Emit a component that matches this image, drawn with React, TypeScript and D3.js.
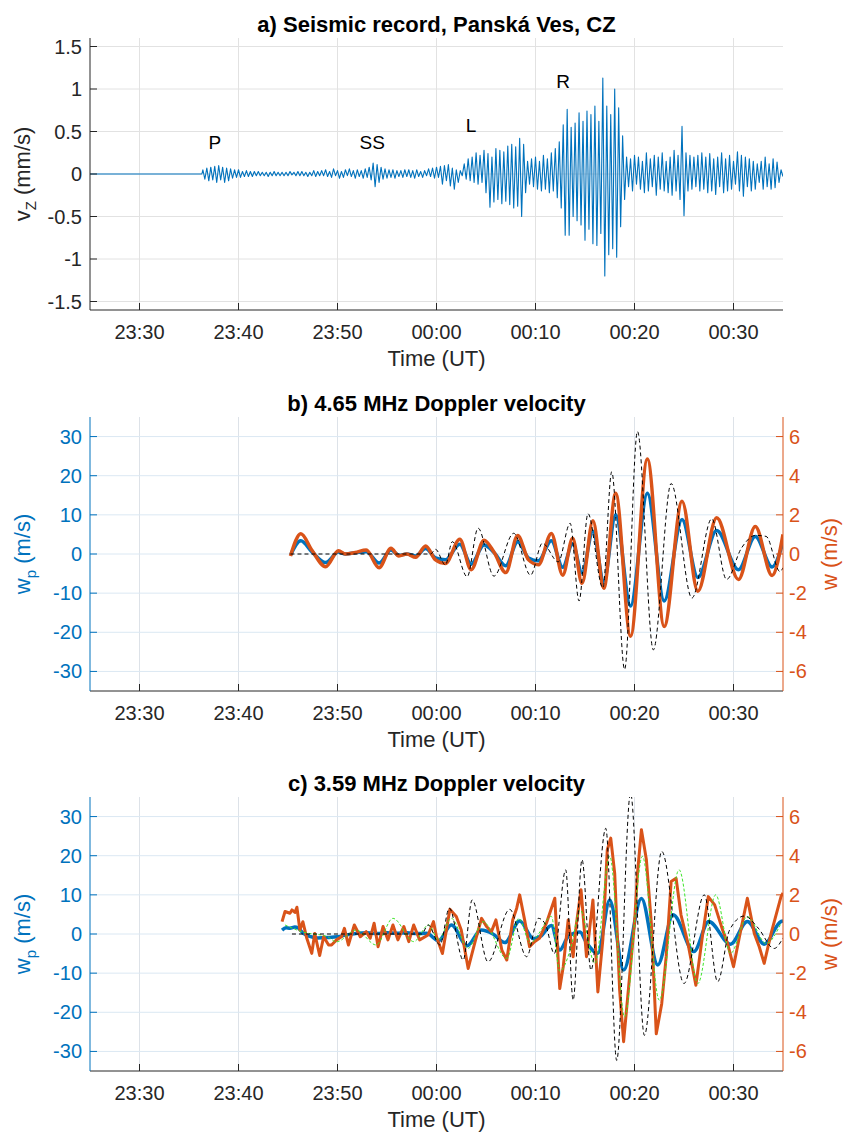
import React from "react";
import * as d3 from "d3";

type Pt = [number, number];

// ---------- axes / ticks ----------
const timeTicks = [-30, -20, -10, 0, 10, 20, 30]; // minutes relative to 00:00 UT
const timeTickLabels = ["23:30", "23:40", "23:50", "00:00", "00:10", "00:20", "00:30"];
const seismicTicks = [-1.5, -1, -0.5, 0, 0.5, 1, 1.5];
const seismicTickLabels = ["-1.5", "-1", "-0.5", "0", "0.5", "1", "1.5"];
const wpTicks = [-30, -20, -10, 0, 10, 20, 30];
const wTicks = [-6, -4, -2, 0, 2, 4, 6];

// ---------- panel a: seismic record (successive extrema, 0.2 min apart) ----------
const SEIS_START = -23.6;
const SEIS_STEP = 0.2;
const seismicPeaks: number[] = [
  0.05, -0.06, 0.07, -0.08, 0.08, -0.07, 0.09, -0.1, 0.1, -0.07,
  0.08, -0.1, 0.07, -0.08, 0.06, -0.05, 0.05, -0.04, 0.05, -0.04,
  0.03, -0.03, 0.04, -0.03, 0.03, -0.03, 0.03, -0.02, 0.03, -0.02,
  0.02, -0.02, 0.02, -0.03, 0.02, -0.02, 0.03, -0.02, 0.02, -0.02,
  0.02, -0.02, 0.02, -0.02, 0.03, -0.01, 0.02, -0.02, 0.03, -0.02,
  0.03, -0.02, 0.02, -0.03, 0.02, -0.02, 0.04, -0.03, 0.03, -0.02,
  0.04, -0.02, 0.05, -0.03, 0.03, -0.04, 0.06, -0.02, 0.04, -0.05,
  0.03, -0.04, 0.05, -0.02, 0.06, -0.03, 0.04, -0.05, 0.05, -0.03,
  0.04, -0.05, 0.06, -0.04, 0.08, -0.07, 0.13, -0.15, 0.11, -0.1,
  0.08, -0.06, 0.06, -0.05, 0.05, -0.04, 0.05, -0.05, 0.04, -0.03,
  0.04, -0.04, 0.05, -0.03, 0.05, -0.04, 0.04, -0.05, 0.05, -0.03,
  0.03, -0.04, 0.04, -0.02, 0.06, -0.03, 0.07, -0.05, 0.08, -0.04,
  0.09, -0.12, 0.1, -0.08, 0.11, -0.14, 0.07, -0.18, 0.05, -0.1,
  0.04, -0.02, 0.12, -0.06, 0.18, -0.08, 0.2, -0.1, 0.25, -0.12,
  0.22, -0.1, 0.28, -0.22, 0.24, -0.39, 0.2, -0.33, 0.3, -0.3,
  0.28, -0.35, 0.26, -0.32, 0.33, -0.36, 0.35, -0.4, 0.32, -0.38,
  0.42, -0.5, 0.35, -0.22, 0.15, -0.12, 0.18, -0.15, 0.2, -0.18,
  0.15, -0.2, 0.22, -0.18, 0.18, -0.22, 0.25, -0.2, 0.3, -0.28,
  0.38, -0.4, 0.58, -0.72, 0.76, -0.72, 0.55, -0.5, 0.6, -0.55,
  0.72, -0.6, 0.62, -0.78, 0.74, -0.65, 0.7, -0.82, 0.8, -0.84,
  0.62, -0.7, 1.13, -1.2, 0.8, -0.95, 0.7, -0.88, 1.0, -0.98,
  0.78, -0.62, 0.45, -0.3, 0.2, -0.15, 0.18, -0.2, 0.22, -0.12,
  0.2, -0.18, 0.15, -0.22, 0.25, -0.2, 0.18, -0.15, 0.22, -0.25,
  0.2, -0.18, 0.25, -0.2, 0.15, -0.22, 0.2, -0.25, 0.28, -0.2,
  0.22, -0.3, 0.56, -0.49, 0.25, -0.2, 0.22, -0.18, 0.2, -0.15,
  0.22, -0.2, 0.25, -0.18, 0.2, -0.22, 0.24, -0.2, 0.18, -0.24,
  0.2, -0.15, 0.25, -0.22, 0.18, -0.2, 0.22, -0.18, 0.15, -0.12,
  0.26, -0.2, 0.22, -0.26, 0.2, -0.15, 0.18, -0.2, 0.15, -0.18,
  0.12, -0.1, 0.15, -0.18, 0.2, -0.15, 0.12, -0.18, 0.18, -0.16,
  0.14, -0.1, 0.05, -0.03,
];
const phaseLabels = ["P", "SS", "L", "R"];
const phaseTimes = [-22.4, -6.5, 3.5, 12.8];
const phaseLevels = [0.38, 0.38, 0.58, 1.09];

// ---------- panel b: 4.65 MHz ----------
const bOrange: Pt[] = [
  [-14.75, -0.1], [-13.7, 1.03], [-12.6, 0.2], [-11.2, -0.65], [-9.9, 0.17], [-9.2, 0], [-8.2, 0.08],
  [-7.1, 0.2], [-5.8, -0.7], [-4.6, 0.29], [-3.8, -0.1], [-3.0, 0], [-2.1, -0.17], [-1.1, 0.41],
  [-0.1, -0.3], [0.9, -0.48], [2.35, 0.75], [3.5, -0.8], [4.8, 0.7], [5.8, 0.1], [7.0, -0.95],
  [8.2, 0.95], [9.3, -0.3], [10.3, -0.55], [11.6, 1.05], [12.75, -1.08], [13.75, 0.8], [14.7, -1.5],
  [15.8, 1.7], [16.9, -1.75], [18.1, 3.1], [19.6, -4.2], [21.3, 4.85], [23.0, -3.7], [24.8, 2.7],
  [26.4, -1.9], [28.3, 1.85], [30.5, -1.3], [32.2, 1.4], [33.9, -1.1], [35, 1.0],
];
const bBlue: Pt[] = [
  [-14.75, -0.3], [-13.7, 3.4], [-12.6, 0.6], [-11.2, -2.2], [-9.9, 0.5], [-9.2, 0], [-8.2, 0.3],
  [-7.1, 0.6], [-5.8, -2.3], [-4.6, 1.0], [-3.8, -0.3], [-3.0, 0], [-2.1, -0.5], [-1.1, 1.4],
  [-0.1, -1.0], [0.9, -1.5], [2.35, 2.5], [3.5, -2.6], [4.8, 2.3], [5.8, 0.4], [7.0, -3.0],
  [8.2, 3.1], [9.3, -1.0], [10.3, -1.7], [11.6, 3.4], [12.75, -3.4], [13.75, 2.6], [14.7, -4.8],
  [15.8, 5.8], [16.9, -7.0], [18.1, 10], [19.6, -13.3], [21.3, 15.5], [23.0, -12], [24.8, 8.8],
  [26.4, -6.0], [28.3, 6.0], [30.5, -4.0], [32.2, 4.5], [33.9, -3.3], [35, 3.0],
];
const bModel: Pt[] = [
  [-14.75, 0], [-0.6, 0], [-0.1, 0.24], [0.9, -0.56], [1.6, 0.63], [3.1, -1.16], [4.2, 1.32],
  [5.8, -1.13], [7.8, 1.06], [9.5, -1.08], [10.7, 0.55], [12.3, -0.4], [13.5, 1.57], [14.4, -2.4],
  [15.3, 2.06], [16.8, -1.73], [17.7, 4.2], [19.0, -5.9], [20.3, 6.26], [21.9, -4.9], [23.7, 3.6],
  [25.8, -2.25], [27.8, 1.8], [29.3, -1.3], [30.8, 0.3], [32.2, 0.95], [33.3, 0.9], [34.7, -0.9], [35, -0.7],
];

// ---------- panel c: 3.59 MHz ----------
const cOrange: Pt[] = [
  [-15.6, 0.63], [-15.3, 1.15], [-14.8, 1.06], [-14.6, 1.23], [-14.3, 1.1], [-14.1, 1.37], [-13.8, 0.2],
  [-13.5, 0.63], [-13.1, -0.22], [-12.6, -0.99], [-12.3, 0.03], [-11.8, -1.1], [-11.4, -0.14], [-10.9, -0.56],
  [-10.6, -0.56], [-10.1, -0.3], [-9.6, -0.14], [-9.3, 0.29], [-8.9, -0.56], [-8.3, 0.46], [-7.7, -0.14],
  [-7.1, 0.12], [-6.7, -0.22], [-6.3, 0.55], [-5.9, -0.65], [-5.4, 0.38], [-4.9, -0.3], [-4.4, 0.46],
  [-3.9, -0.3], [-3.3, 0.38], [-2.8, -0.39], [-2.3, 0.46], [-1.7, -0.3], [-0.85, -0.05], [-0.3, 0.63],
  [0, -0.14], [0.6, -1.0], [1.35, 1.26], [2.0, 0.89], [2.5, 0.2], [3.2, -1.76], [3.9, -0.39],
  [4.55, 0.8], [5.05, 0.38], [5.55, 0.12], [6.0, 0.72], [6.6, -0.82], [7.1, -1.33], [7.7, 0.72],
  [8.1, 1.32], [8.4, 2.0], [8.9, 0.72], [9.4, -0.65], [9.9, -0.39], [10.4, -0.22], [11.1, 0.55],
  [11.95, 1.83], [12.45, -2.79], [12.8, -1.68], [13.3, 0.72], [13.8, -1.16], [14.1, 0.38], [14.6, 2.26],
  [15.15, -1.16], [15.8, 1.74], [16.3, -2.96], [16.8, -0.3], [17.25, 4.3], [17.6, 4.9], [18.0, 3.1],
  [18.5, -2.87], [18.9, -5.5], [19.5, -2.19], [20.0, 0.55], [20.3, 3.1], [20.7, 5.33], [21.2, 3.8],
  [21.7, 0.55], [22.2, -5.1], [22.75, -3.56], [23.2, -1.16], [23.7, 2.68], [24.2, 2.85], [24.7, 0.97],
  [25.4, -0.48], [26.2, -2.62], [26.9, 0.03], [27.45, 1.91], [28.1, 1.49], [28.9, 0.2], [29.4, -0.48],
  [30.0, -1.67], [30.6, -0.14], [31.4, 1.83], [32.1, 0.03], [32.6, -0.65], [33.1, -1.5], [33.8, 0.03],
  [34.8, 1.91], [35, 2.1],
];
const cBlue: Pt[] = [
  [-15.6, 1.0], [-15.2, 1.6], [-14.8, 1.5], [-14.3, 1.8], [-14.0, 1.6], [-13.5, 0.3], [-12.8, -0.6],
  [-12.0, -1.0], [-11.0, -0.9], [-10.0, -0.7], [-9.0, -0.2], [-8.0, 0.2], [-7.0, 0.3], [-6.0, 0.1],
  [-5.0, 0.3], [-4.0, 0.2], [-3.0, 0.3], [-2.0, 0.1], [-1.0, 0.2], [0.2, -1.7], [1.5, 2.3], [3.1, -3.0],
  [4.5, 1.0], [5.7, 0.0], [6.9, -2.2], [8.4, 3.3], [9.8, -1.2], [10.5, -0.6], [11.6, 2.2], [12.45, -4.1],
  [13.3, -0.7], [14.5, 0.5], [15.1, -2.0], [16.3, -4.9], [17.5, 8.7], [18.9, -9.2], [20.7, 9.1],
  [22.35, -7.9], [23.9, 4.9], [26.0, -4.5], [27.5, 3.2], [29.7, -2.6], [31.4, 3.2], [33.1, -2.6],
  [34.8, 3.2], [35, 3.3],
];
const cModel: Pt[] = [
  [-14.6, 0], [-1.5, 0], [-0.85, 0.46], [0.35, -0.56], [1.3, 1.32], [2.7, -1.33], [3.6, 1.74],
  [5.2, -1.42], [7.4, 1.26], [9.1, -1.16], [10.3, 0.8], [11.0, 0.5], [11.9, -1.0], [13.05, 3.28],
  [13.8, -3.38], [14.7, 3.8], [15.6, -1.85], [17.1, 5.4], [18.2, -6.46], [19.6, 7.2], [21.0, -5.18],
  [22.75, 4.22], [25.0, -2.53], [27.05, 2.0], [28.4, -2.44], [29.6, 0.2], [31.1, 0.92], [32.5, 0.3],
  [34.1, -0.74], [35, -0.2],
];
const cGreen: Pt[] = [
  [-15.3, 0.46], [-13.5, 0.1], [-11.0, -0.14], [-10.1, -0.4], [-8.1, 0.2], [-6.1, -0.56], [-4.4, 0.8],
  [-2.3, -0.39], [-0.8, 0.46], [0.2, -0.3], [1.5, 0.8], [3.2, -0.73], [4.7, 0.63], [7.1, -1.25],
  [8.3, 0.8], [9.5, -0.48], [10.3, 0], [11.6, 0.9], [12.45, -1.9], [13.6, -0.65], [14.5, 1.23],
  [16.0, -1.5], [17.5, 3.97], [19.0, -4.24], [20.8, 3.97], [22.5, -3.38], [24.5, 3.28], [26.4, -2.53],
  [28.2, 2.0], [29.7, -0.99], [31.4, 0.89], [33.3, -0.48], [34.8, 0.55],
];

// ---------- styling ----------
const FONT = "'Liberation Sans', Arial, Helvetica, sans-serif";
const AX = "#262626";
const BLUE = "#0072BD";
const ORANGE = "#D95319";
const GREEN = "#3ee62a";
const L = 90, R = 783;
const TICK = 7;
const TICK_FS = 20;
const LABEL_FS = 22;
const TITLE_FS = 22;

type PanelProps = {
  top: number;
  bottom: number;
  title: string;
  dual: boolean;
  children: React.ReactNode;
  yTicks: number[];
  yTickLabels: string[];
  yScale: d3.ScaleLinear<number, number>;
  rTicks?: number[];
  rScale?: d3.ScaleLinear<number, number>;
  yLabel: React.ReactNode;
  clipId: string;
};

const x = d3.scaleLinear().domain([-35, 35]).range([L, R]);

function Panel(p: PanelProps) {
  const { top, bottom } = p;
  const leftColor = p.dual ? BLUE : AX;
  const hGrid = p.dual ? "#dbe8f3" : "#e2e2e2";
  const vGrid = p.dual ? "#dde2e8" : "#e2e2e2";
  return (
    <g>
      <defs>
        <clipPath id={p.clipId}>
          <rect x={L} y={top} width={R - L} height={bottom - top} />
        </clipPath>
      </defs>
      {timeTicks.map((t) => (
        <line key={"vg" + t} x1={x(t)} x2={x(t)} y1={top} y2={bottom} stroke={vGrid} strokeWidth={1} />
      ))}
      {p.yTicks.map((v) => (
        <line key={"hg" + v} x1={L} x2={R} y1={p.yScale(v)} y2={p.yScale(v)} stroke={hGrid} strokeWidth={1} />
      ))}
      <g clipPath={`url(#${p.clipId})`}>{p.children}</g>
      <line x1={L} x2={R} y1={bottom} y2={bottom} stroke={AX} strokeWidth={1} />
      {timeTicks.map((t, i) => (
        <g key={"xt" + t}>
          <line x1={x(t)} x2={x(t)} y1={bottom} y2={bottom - TICK} stroke={AX} strokeWidth={1} />
          <text x={x(t)} y={bottom + 29} textAnchor="middle" fontSize={TICK_FS} fill={AX} fontFamily={FONT}>
            {timeTickLabels[i]}
          </text>
        </g>
      ))}
      <text x={(L + R) / 2} y={bottom + 56} textAnchor="middle" fontSize={LABEL_FS} fill={AX} fontFamily={FONT}>
        Time (UT)
      </text>
      <line x1={L} x2={L} y1={top} y2={bottom} stroke={leftColor} strokeWidth={1} />
      {p.yTicks.map((v, i) => (
        <g key={"yt" + v}>
          <line x1={L} x2={L + TICK} y1={p.yScale(v)} y2={p.yScale(v)} stroke={leftColor} strokeWidth={1} />
          <text x={L - 8} y={p.yScale(v) + 7} textAnchor="end" fontSize={TICK_FS} fill={leftColor} fontFamily={FONT}>
            {p.yTickLabels[i]}
          </text>
        </g>
      ))}
      <text
        transform={`translate(30,${(top + bottom) / 2}) rotate(-90)`}
        textAnchor="middle"
        fontSize={LABEL_FS}
        fill={leftColor}
        fontFamily={FONT}
      >
        {p.yLabel}
      </text>
      {p.dual && p.rTicks && p.rScale && (
        <g>
          <line x1={R} x2={R} y1={top} y2={bottom} stroke={ORANGE} strokeWidth={1} />
          {p.rTicks.map((v) => (
            <g key={"rt" + v}>
              <line x1={R} x2={R - TICK} y1={p.rScale!(v)} y2={p.rScale!(v)} stroke={ORANGE} strokeWidth={1} />
              <text x={R + 6} y={p.rScale!(v) + 7} textAnchor="start" fontSize={TICK_FS} fill={ORANGE} fontFamily={FONT}>
                {String(v)}
              </text>
            </g>
          ))}
          <text
            transform={`translate(837,${(top + bottom) / 2}) rotate(-90)`}
            textAnchor="middle"
            fontSize={LABEL_FS}
            fill={ORANGE}
            fontFamily={FONT}
          >
            w (m/s)
          </text>
        </g>
      )}
      <text x={(L + R) / 2} y={top - 6} textAnchor="middle" fontSize={TITLE_FS} fontWeight="bold" fill="#000" fontFamily={FONT}>
        {p.title}
      </text>
    </g>
  );
}

export default function App() {
  const yA = d3.scaleLinear().domain([-1.6, 1.6]).range([310, 38]);
  const yBL = d3.scaleLinear().domain([-35, 35]).range([691, 417]);
  const yBR = d3.scaleLinear().domain([-7, 7]).range([691, 417]);
  const yCL = d3.scaleLinear().domain([-35, 35]).range([1071, 797]);
  const yCR = d3.scaleLinear().domain([-7, 7]).range([1071, 797]);

  const seisPts: Pt[] = [
    [-35, 0],
    [SEIS_START - 0.1, 0],
    ...seismicPeaks.map((v, i) => [SEIS_START + i * SEIS_STEP, v] as Pt),
  ];

  const mk = (ys: d3.ScaleLinear<number, number>, curve: d3.CurveFactory) =>
    d3.line<Pt>().x((d) => x(d[0])).y((d) => ys(d[1])).curve(curve);

  const lineA = mk(yA, d3.curveLinear);
  const bL = mk(yBL, d3.curveMonotoneX);
  const bR = mk(yBR, d3.curveMonotoneX);
  const cL = mk(yCL, d3.curveMonotoneX);
  const cRsmooth = mk(yCR, d3.curveMonotoneX);
  const cRlin = mk(yCR, d3.curveLinear);

  const wpLabel = (
    <>
      w<tspan dy={6} fontSize={15}>p</tspan>
      <tspan dy={-6}>{"  (m/s)"}</tspan>
    </>
  );

  return (
    <svg
      width={845}
      height={1132}
      viewBox="0 0 845 1132"
      style={{ position: "absolute", left: 0, top: 0, background: "#fff" }}
    >
      <rect x={0} y={0} width={845} height={1132} fill="#fff" />
      <Panel
        top={38}
        bottom={310}
        title="a) Seismic record, Panská Ves, CZ"
        dual={false}
        yTicks={seismicTicks}
        yTickLabels={seismicTickLabels}
        yScale={yA}
        clipId="clipA"
        yLabel={
          <>
            v<tspan dy={6} fontSize={15}>Z</tspan>
            <tspan dy={-6}>{"  (mm/s)"}</tspan>
          </>
        }
      >
        <path d={lineA(seisPts) || ""} fill="none" stroke={BLUE} strokeWidth={1.1} strokeLinejoin="round" />
      </Panel>
      {phaseLabels.map((lab, i) => (
        <text
          key={lab}
          x={x(phaseTimes[i])}
          y={yA(phaseLevels[i]) + 7}
          textAnchor="middle"
          fontSize={19}
          fill="#000"
          fontFamily={FONT}
        >
          {lab}
        </text>
      ))}

      <Panel
        top={417}
        bottom={691}
        title="b) 4.65 MHz Doppler velocity"
        dual={true}
        yTicks={wpTicks}
        yTickLabels={wpTicks.map(String)}
        yScale={yBL}
        rTicks={wTicks}
        rScale={yBR}
        clipId="clipB"
        yLabel={wpLabel}
      >
        <path d={bL(bBlue) || ""} fill="none" stroke={BLUE} strokeWidth={3.5} strokeLinejoin="round" />
        <path d={bR(bOrange) || ""} fill="none" stroke={ORANGE} strokeWidth={3.5} strokeLinejoin="round" />
        <path d={bR(bModel) || ""} fill="none" stroke="#000" strokeWidth={1} strokeDasharray="4,3" />
      </Panel>

      <Panel
        top={797}
        bottom={1071}
        title="c) 3.59 MHz Doppler velocity"
        dual={true}
        yTicks={wpTicks}
        yTickLabels={wpTicks.map(String)}
        yScale={yCL}
        rTicks={wTicks}
        rScale={yCR}
        clipId="clipC"
        yLabel={wpLabel}
      >
        <path d={cL(cBlue) || ""} fill="none" stroke={BLUE} strokeWidth={3.5} strokeLinejoin="round" />
        <path d={cRlin(cOrange) || ""} fill="none" stroke={ORANGE} strokeWidth={3} strokeLinejoin="round" />
        <path d={cRsmooth(cGreen) || ""} fill="none" stroke={GREEN} strokeWidth={1} strokeDasharray="3,2" />
        <path d={cRsmooth(cModel) || ""} fill="none" stroke="#000" strokeWidth={1} strokeDasharray="4,3" />
      </Panel>
    </svg>
  );
}
